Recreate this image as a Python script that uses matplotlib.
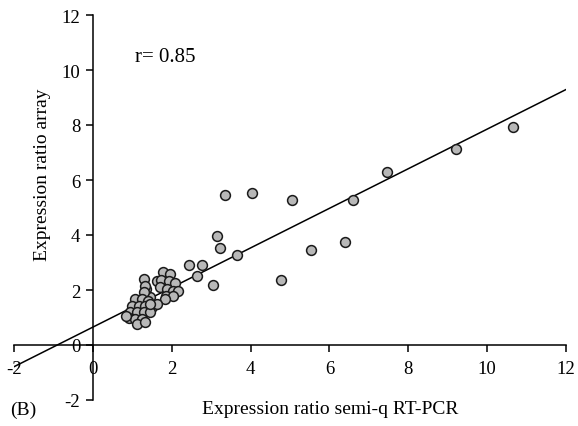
import numpy as np
import matplotlib.pyplot as plt

# semi-q RT-PCR ratio (x) vs array ratio (y)
pcr_x = [10.66, 9.20, 7.45, 3.35, 4.04, 5.06, 6.61, 3.14, 3.22, 3.66,
         5.52, 6.39, 2.78, 2.44, 2.63, 3.05, 4.77,
         1.62, 1.79, 1.96, 1.74, 1.93, 2.08, 1.70, 1.88, 2.02, 2.15,
         1.86, 2.03, 1.83, 1.45, 1.36,
         1.29, 1.31, 1.29, 1.07, 1.24, 1.41, 0.99, 1.16, 1.33, 1.50,
         0.95, 1.12, 1.29, 1.45, 0.91, 1.07, 1.24, 1.12, 1.33, 1.62,
         0.85, 1.45]
array_y = [7.93, 7.13, 6.28, 5.47, 5.52, 5.28, 5.28, 3.98, 3.54, 3.26,
           3.47, 3.76, 2.91, 2.92, 2.52, 2.18, 2.36,
           2.32, 2.64, 2.58, 2.36, 2.32, 2.25, 2.10, 2.05, 1.98, 1.98,
           1.80, 1.78, 1.68, 1.75, 2.05,
           2.40, 2.16, 1.92, 1.67, 1.67, 1.61, 1.43, 1.43, 1.43, 1.37,
           1.19, 1.19, 1.19, 1.19, 0.97, 0.95, 0.95, 0.76, 0.82, 1.49,
           1.05, 1.50]

# regression line as drawn in the figure
slope = 0.72
intercept = 0.65
r_value = 0.85

ticks = [-2, 0, 2, 4, 6, 8, 10, 12]

plt.rcParams['font.family'] = ['Liberation Serif', 'DejaVu Serif']
plt.rcParams['axes.unicode_minus'] = False

fig = plt.figure(figsize=(5.78, 4.27), dpi=100)
ax = fig.add_axes([14 / 578, 26 / 427, 552 / 578, 385 / 427])

ax.set_xlim(-2, 12)
ax.set_ylim(-2, 12)

line_x = np.array([-2, 12])
ax.plot(line_x, slope * line_x + intercept, color='black', lw=1.1, zorder=2)
ax.scatter(pcr_x, array_y, s=50, facecolor='#b8b8b8', edgecolor='#1a1a1a',
           linewidth=1.1, zorder=3)

ax.spines['left'].set_position('zero')
ax.spines['bottom'].set_position('zero')
ax.spines['top'].set_visible(False)
ax.spines['right'].set_visible(False)
for s in ('left', 'bottom'):
    ax.spines[s].set_linewidth(1.1)

ax.set_xticks(ticks)
ax.set_yticks(ticks)
ax.tick_params(direction='out', length=5, width=1.1, labelsize=13.5, pad=4)
ax.tick_params(axis='x', pad=6)

ax.text(1.07, 10.5, 'r= %.2f' % r_value, fontsize=15, va='center')

fig.text(43 / 578, 1 - 175 / 427, 'Expression ratio array', rotation=90,
         fontsize=14, ha='center', va='center')
fig.text(330 / 578, 1 - 410 / 427, 'Expression ratio semi-q RT-PCR',
         fontsize=14, ha='center', va='center')
fig.text(10 / 578, 1 - 410 / 427, '(B)', fontsize=14, ha='left', va='center')

fig.savefig('out.png', dpi=100)
